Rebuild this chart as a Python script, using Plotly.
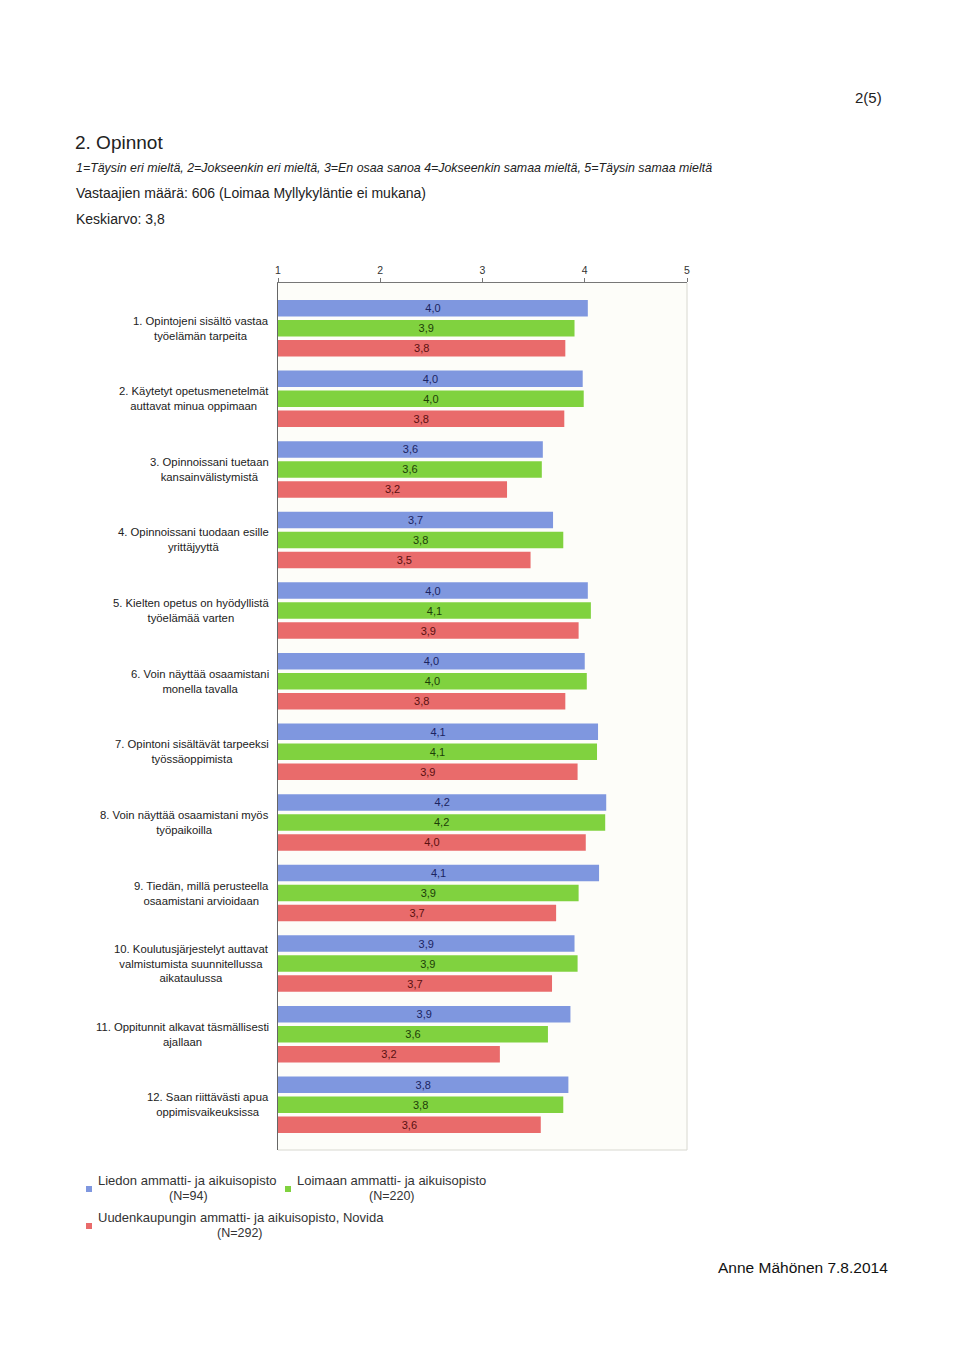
import plotly.graph_objects as go

questions = [
    "1. Opintojeni sisältö vastaa<br>työelämän tarpeita",
    "2. Käytetyt opetusmenetelmät<br>auttavat minua oppimaan",
    "3. Opinnoissani tuetaan<br>kansainvälistymistä",
    "4. Opinnoissani tuodaan esille<br>yrittäjyyttä",
    "5. Kielten opetus on hyödyllistä<br>työelämää varten",
    "6. Voin näyttää osaamistani<br>monella tavalla",
    "7. Opintoni sisältävät tarpeeksi<br>työssäoppimista",
    "8. Voin näyttää osaamistani myös<br>työpaikoilla",
    "9. Tiedän, millä perusteella<br>osaamistani arvioidaan",
    "10. Koulutusjärjestelyt auttavat<br>valmistumista suunnitellussa<br>aikataulussa",
    "11. Oppitunnit alkavat täsmällisesti<br>ajallaan",
    "12. Saan riittävästi apua<br>oppimisvaikeuksissa",
]

liedon = [4.03, 3.98, 3.59, 3.69, 4.03, 4.00, 4.13, 4.21, 4.14, 3.90, 3.86, 3.84]
loimaan = [3.90, 3.99, 3.58, 3.79, 4.06, 4.02, 4.12, 4.20, 3.94, 3.93, 3.64, 3.79]
novida = [3.81, 3.80, 3.24, 3.47, 3.94, 3.81, 3.93, 4.01, 3.72, 3.68, 3.17, 3.57]

series_names = [
    "Liedon ammatti- ja aikuisopisto",
    "Loimaan ammatti- ja aikuisopisto",
    "Uudenkaupungin ammatti- ja aikuisopisto, Novida",
]
series_n = ["(N=94)", "(N=220)", "(N=292)"]
series_values = [liedon, loimaan, novida]
colors = ["#7f97df", "#80d23f", "#e96b6b"]
text_colors = ["#1b2460", "#1c3d08", "#5a1010"]

x_ticks = [1, 2, 3, 4, 5]

FONT = "Liberation Sans, Arial, sans-serif"

fig = go.Figure()
for name, vals, c, tc in zip(series_names, series_values, colors, text_colors):
    fig.add_trace(go.Bar(
        y=questions, x=[v - 1 for v in vals], base=1, orientation="h",
        name=name, marker=dict(color=c, line=dict(width=0)),
        customdata=vals,
        texttemplate="%{customdata:.1f}", textposition="inside",
        insidetextanchor="middle", constraintext="none",
        textfont=dict(color=tc, size=11, family=FONT),
        showlegend=False,
    ))

OFF = 8  # page body margin
W, H = 960 - OFF, 1358 - OFF
L, T = 278 - OFF, 283 - OFF
R = W - (687 - OFF)
B = H - (1150 - OFF)

fig.update_layout(
    width=W, height=H,
    margin=dict(l=L, r=R, t=T, b=B),
    paper_bgcolor="white", plot_bgcolor="#fdfdf9",
    barmode="group", bargap=0.15, bargroupgap=0.175,
    separators=", ",
    font=dict(family=FONT, color="#222"),
    xaxis=dict(
        side="top", range=[1, 5], tickvals=x_ticks, ticktext=[str(t) for t in x_ticks],
        showgrid=False, zeroline=False, showline=True, linecolor="#777", linewidth=1,
        ticks="outside", ticklen=4, tickcolor="#777",
        tickfont=dict(size=10.5, color="#333", family=FONT),
    ),
    yaxis=dict(
        range=[11.64, -0.64], showticklabels=False, showgrid=False, zeroline=False,
        showline=True, linecolor="#666", linewidth=1, ticks="",
    ),
)

# right and bottom borders of plot area
fig.add_shape(type="line", xref="paper", yref="paper", x0=1, x1=1, y0=0, y1=1,
              line=dict(color="#d8d8d0", width=1))
fig.add_shape(type="line", xref="paper", yref="paper", x0=0, x1=1, y0=0, y1=0,
              line=dict(color="#d8d8d0", width=1))

# category labels
for q in questions:
    fig.add_annotation(x=0, xref="paper", y=q, yref="y", xanchor="right", xshift=-7,
                       text=q, align="center", showarrow=False,
                       font=dict(size=11.3, color="#222", family=FONT))

def px_x(x):
    return (x - OFF - L) / (W - L - R)

def px_y(y):
    return 1 - (y - OFF - T) / (H - T - B)

# header texts
fig.add_annotation(x=px_x(884), y=px_y(97), xref="paper", yref="paper", xanchor="right", yanchor="middle",
                   text="2(5)", showarrow=False, font=dict(size=15, color="#222", family=FONT))
fig.add_annotation(x=px_x(73), y=px_y(143), xref="paper", yref="paper", xanchor="left", yanchor="middle",
                   text="2. Opinnot", showarrow=False, font=dict(size=19, color="#222", family=FONT))
fig.add_annotation(x=px_x(74), y=px_y(168), xref="paper", yref="paper", xanchor="left", yanchor="middle",
                   text="<i>1=Täysin eri mieltä, 2=Jokseenkin eri mieltä, 3=En osaa sanoa 4=Jokseenkin samaa mieltä, 5=Täysin samaa mieltä</i>",
                   showarrow=False, font=dict(size=12.4, color="#222", family=FONT))
fig.add_annotation(x=px_x(74), y=px_y(193), xref="paper", yref="paper", xanchor="left", yanchor="middle",
                   text="Vastaajien määrä: 606 (Loimaa Myllykyläntie ei mukana)",
                   showarrow=False, font=dict(size=14, color="#222", family=FONT))
fig.add_annotation(x=px_x(74), y=px_y(219), xref="paper", yref="paper", xanchor="left", yanchor="middle",
                   text="Keskiarvo: 3,8",
                   showarrow=False, font=dict(size=14, color="#222", family=FONT))
fig.add_annotation(x=px_x(890), y=px_y(1267), xref="paper", yref="paper", xanchor="right", yanchor="middle",
                   text="Anne Mähönen 7.8.2014",
                   showarrow=False, font=dict(size=15.5, color="#111", family=FONT))

# legend (custom)
legend_pos = [(86, 1180, 188), (285, 1180, 392), (86, 1217, 240)]
for (sx, ty, nx), name, n, c in zip(legend_pos, series_names, series_n, colors):
    fig.add_shape(type="rect", xref="paper", yref="paper",
                  x0=px_x(sx), x1=px_x(sx + 6), y0=px_y(ty + 12), y1=px_y(ty + 6),
                  fillcolor=c, line=dict(width=0))
    fig.add_annotation(x=px_x(sx + 10), y=px_y(ty), xref="paper", yref="paper",
                       xanchor="left", yanchor="middle", text=name, showarrow=False,
                       font=dict(size=13, color="#333", family=FONT))
    fig.add_annotation(x=px_x(nx), y=px_y(ty + 16), xref="paper", yref="paper",
                       xanchor="center", yanchor="middle", text=n, showarrow=False,
                       font=dict(size=12.5, color="#333", family=FONT))

fig.write_html("out.html")
